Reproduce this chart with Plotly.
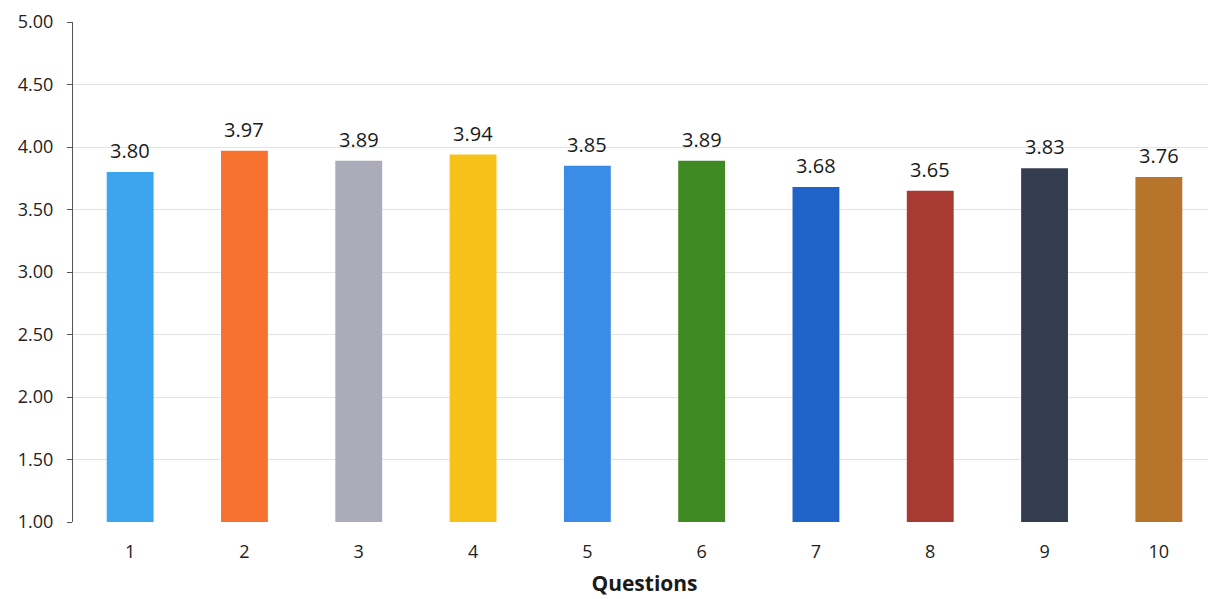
import plotly.graph_objects as go

questions = ["1", "2", "3", "4", "5", "6", "7", "8", "9", "10"]
scores = [3.80, 3.97, 3.89, 3.94, 3.85, 3.89, 3.68, 3.65, 3.83, 3.76]
colors = ["#3BA6EE", "#F7722F", "#ABABBA", "#F6C21A", "#3A8CE6",
          "#3F8A22", "#1F62C8", "#A83A33", "#343D50", "#B7742B"]
y_ticks = [1.0, 1.5, 2.0, 2.5, 3.0, 3.5, 4.0, 4.5, 5.0]

font_family = "Open Sans, Liberation Sans, sans-serif"

fig = go.Figure()
fig.add_trace(go.Bar(
    x=questions, y=scores,
    marker=dict(color=colors, line=dict(width=0)),
    width=0.41,
    hoverinfo="skip",
))

for i, s in enumerate(scores):
    fig.add_annotation(x=i, y=s, text=f"{s:.2f}", showarrow=False,
                       yanchor="bottom", yshift=6,
                       font=dict(family=font_family, size=20, color="#1a1a1a"))

fig.update_layout(
    width=1208, height=591,
    margin=dict(l=65, r=0, t=14, b=77),
    paper_bgcolor="white", plot_bgcolor="white",
    showlegend=False,
    font=dict(family=font_family, color="#222222"),
    xaxis=dict(
        type="category",
        tickfont=dict(size=18, color="#222222"),
        showgrid=False, showline=False,
        ticks="outside", ticklen=13, tickcolor="rgba(0,0,0,0)",
        title=dict(text="<b>Questions</b>", font=dict(size=21, color="#1a1a1a"), standoff=14),
    ),
    yaxis=dict(
        range=[1, 5], tickvals=y_ticks, tickformat=".2f",
        tickfont=dict(size=18, color="#222222"),
        ticklabelstandoff=10,
        showgrid=True, gridcolor="#E3E3E3", gridwidth=1,
        showline=True, linecolor="#555555", linewidth=1,
        ticks="outside", ticklen=5, tickcolor="#555555",
        zeroline=False,
    ),
)

fig.write_html("out.html")
